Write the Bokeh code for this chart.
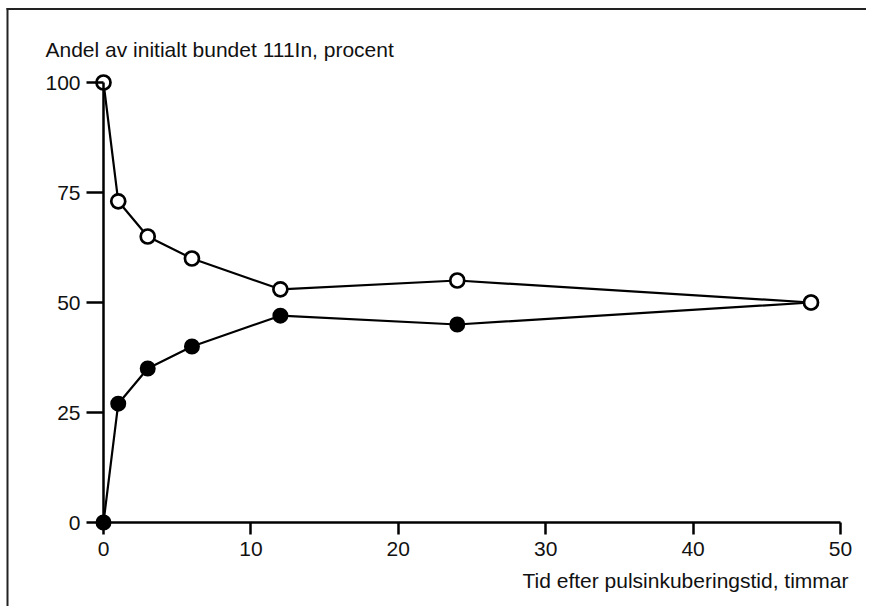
from bokeh.plotting import figure
from bokeh.models import Range1d, LinearAxis, FixedTicker, Label, BoxAnnotation
from bokeh.embed import file_html
from bokeh.resources import INLINE

hours = [0, 1, 3, 6, 12, 24, 48]
open_vals = [100, 73, 65, 60, 53, 55, 50]
filled_vals = [0, 27, 35, 40, 47, 45, 50]
x_ticks = [0, 10, 20, 30, 40, 50]
y_ticks = [0, 25, 50, 75, 100]
y_title = "Andel av initialt bundet 111In, procent"
x_title = "Tid efter pulsinkuberingstid, timmar"

FONT = "Liberation Sans"
FS = "21px"
W, H = 866, 606
# data 0 -> canvas x 103, 50 -> canvas x 840 ; y 100 -> canvas 82, 0 -> canvas 522
sx = (840 - 103) / 50.0
sy = (522 - 82) / 100.0
x0 = -103 / sx
x1 = x0 + W / sx
y1 = 100 + 82 / sy
y0 = y1 - H / sy

def px_x(c):
    return x0 + c / sx

def px_y(c):
    return y1 - c / sy

p = figure(width=W, height=H, output_backend="svg", toolbar_location=None,
           x_range=Range1d(x0, x1), y_range=Range1d(y0, y1),
           x_axis_type=None, y_axis_type=None, min_border=0)
p.outline_line_color = None
p.xgrid.visible = False
p.ygrid.visible = False

# picture border (left and top edges)
p.add_layout(BoxAnnotation(left=px_x(6), right=px_x(8), top=px_y(7.5), bottom=px_y(H + 10),
                           fill_color="#222", fill_alpha=1, line_color=None))
p.add_layout(BoxAnnotation(left=px_x(6), right=px_x(W + 10), top=px_y(7.5), bottom=px_y(9.5),
                           fill_color="#222", fill_alpha=1, line_color=None))

xa = LinearAxis(fixed_location=0, bounds=(0, 50), ticker=FixedTicker(ticks=x_ticks))
ya = LinearAxis(fixed_location=0, bounds=(0, 100), ticker=FixedTicker(ticks=y_ticks))
for ax in (xa, ya):
    ax.axis_line_width = 2.5
    ax.major_tick_line_width = 2.5
    ax.minor_tick_line_color = None
    ax.major_tick_in = 0
    ax.major_label_text_font = FONT
    ax.major_label_text_font_size = FS
    ax.major_label_text_color = "#111"
xa.major_tick_out = 12
xa.major_label_standoff = 7
ya.major_tick_out = 17
ya.major_label_standoff = 6
p.add_layout(xa, "below")
p.add_layout(ya, "left")

p.line(hours, open_vals, line_color="black", line_width=2.2)
p.line(hours, filled_vals, line_color="black", line_width=2.2)
p.scatter(hours, filled_vals, size=14, fill_color="black", line_color="black", line_width=2)
p.scatter(hours, open_vals, size=14, fill_color="white", line_color="black", line_width=2.7)

p.add_layout(Label(x=px_x(45), y=px_y(49), text=y_title,
                   text_font=FONT, text_font_size=FS, text_color="#111",
                   text_baseline="alphabetic"))
p.add_layout(Label(x=px_x(848), y=px_y(580), text=x_title,
                   text_font=FONT, text_font_size=FS, text_color="#111",
                   text_align="right", text_baseline="alphabetic"))

open("out.html", "w").write(file_html(p, INLINE))
